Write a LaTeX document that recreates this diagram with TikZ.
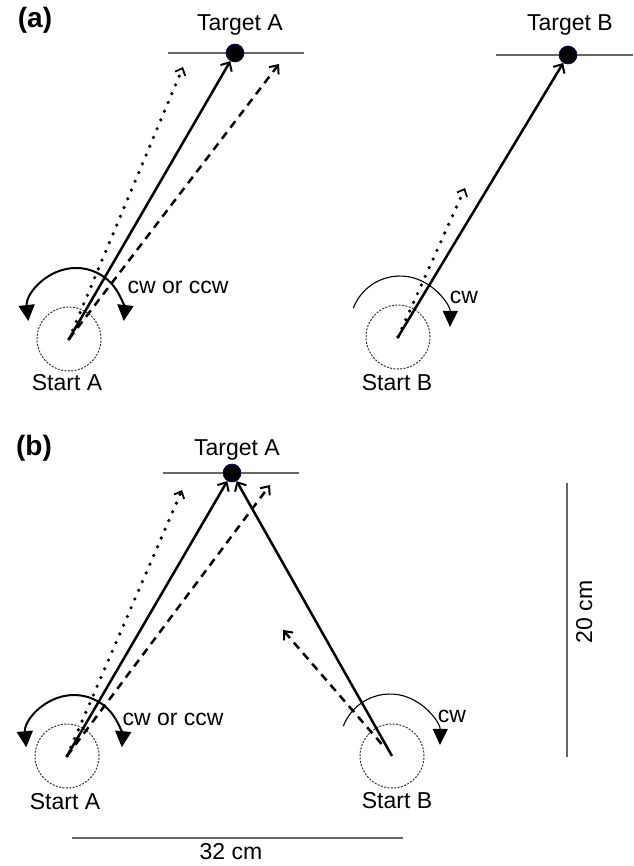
\documentclass[tikz,border=0pt]{standalone}
\usepackage{fontspec}
\setmainfont{Liberation Sans}
\usetikzlibrary{arrows.meta}
\begin{document}
\begin{tikzpicture}[x=1pt,y=-1pt,
  lbl/.style={font=\fontsize{23}{26}\selectfont, anchor=base, inner sep=0pt},
  panel/.style={font=\fontsize{28}{32}\selectfont\bfseries, anchor=base, inner sep=0pt},
  tline/.style={draw=black!60, line width=1.3pt},
  sline/.style={draw=black!60, line width=1.3pt},
  tdot/.style={circle, fill=black, draw=black!60!blue, line width=0.6pt, minimum size=18pt, inner sep=0pt},
  startc/.style={circle, draw=black!80, line width=1pt, dash pattern=on 2pt off 1.4pt, minimum size=64pt, inner sep=0pt},
  solidarr/.style={line width=2.5pt, -{Straight Barb[length=7pt,width=13pt,line width=2pt]}},
  dotarr/.style={line width=3.6pt, line cap=round, dash pattern=on 0pt off 9.5pt, -{Straight Barb[length=6pt,width=11pt,line width=1.8pt]}},
  dasharr/.style={line width=2.5pt, dash pattern=on 8pt off 6pt, -{Straight Barb[length=7pt,width=12pt,line width=2pt]}},
  rotboth/.style={line width=2pt, {Triangle[length=16pt,width=16pt]}-{Triangle[length=16pt,width=16pt]}},
  rotone/.style={line width=1.1pt, -{Triangle[length=16pt,width=15pt]}}
]
\useasboundingbox (0,0) rectangle (633,866);

% ---------------- panel (a) ----------------
\node[panel] (pa) at (35,28) {(a)};
\node[lbl] (lTA) at (240,31) {Target A};
\node[lbl] (lTB) at (570,31) {Target B};
\draw[tline] (168,53) -- (304,53);
\draw[tline] (496,55) -- (633,55);
\node[tdot] (tA) at (235,53) {};
\node[tdot] (tB) at (568,55) {};

\node[startc] (sA) at (69,339) {};
\node[startc] (sB) at (398,337) {};
\node[lbl] (lSA) at (67,390) {Start A};
\node[lbl] (lSB) at (397,390) {Start B};

\coordinate (aDot) at (183,67);
\coordinate (aDash) at (279,64);
\coordinate (bDot) at (465,188);

\draw[dotarr] (sA.center) -- (aDot);
\draw[dasharr] (sA.center) -- (aDash);
\draw[solidarr] (sA.center) -- (tA);
\draw[dotarr] (sB.center) -- (bDot);
\draw[solidarr] (sB.center) -- (tB);

\draw[rotboth] (28.3,321) arc[start angle=174, end angle=366, radius=48];
\node[lbl] (lcwa) at (178,293) {cw or ccw};
\draw[rotone] (353.3,308.1) arc[start angle=201, end angle=361, radius=50];
\node[lbl] (lcwb) at (464,303) {cw};

% ---------------- panel (b) ----------------
\node[panel] (pb) at (34,455) {(b)};
\node[lbl] (lTA2) at (237,455) {Target A};
\draw[tline] (163,473) -- (299,473);
\node[tdot] (tA2) at (232,473) {};

\node[startc] (sA2) at (67,756) {};
\node[startc] (sB2) at (392,756) {};
\node[lbl] (lSA2) at (65,809) {Start A};
\node[lbl] (lSB2) at (397,808) {Start B};

\coordinate (cDot) at (182,490);
\coordinate (cDash) at (270,485);
\coordinate (dDash) at (283,630);

\draw[dotarr] (sA2.center) -- (cDot);
\draw[dasharr] (sA2.center) -- (cDash);
\draw[solidarr] (sA2.center) -- (tA2);
\draw[dasharr, shorten <=16pt] (sB2.center) -- (dDash);
\draw[solidarr] (sB2.center) -- (tA2);

\draw[rotboth] (26.2,747.2) arc[start angle=175, end angle=365, radius=48];
\node[lbl] (lcwc) at (173,725) {cw or ccw};
\draw[rotone] (343.3,726.1) arc[start angle=201, end angle=361, radius=50];
\node[lbl] (lcwd) at (452,722) {cw};

% scale bars
\coordinate (h1) at (72,838);
\coordinate (h2) at (403,838);
\draw[sline] (h1) -- (h2);
\node[lbl] (l32) at (231,859) {32 cm};
\coordinate (v1) at (567,483);
\coordinate (v2) at (567,757);
\draw[sline] (v1) -- (v2);
\node[lbl, rotate=90] (l20) at (592,612) {20 cm};
\end{tikzpicture}
\end{document}
